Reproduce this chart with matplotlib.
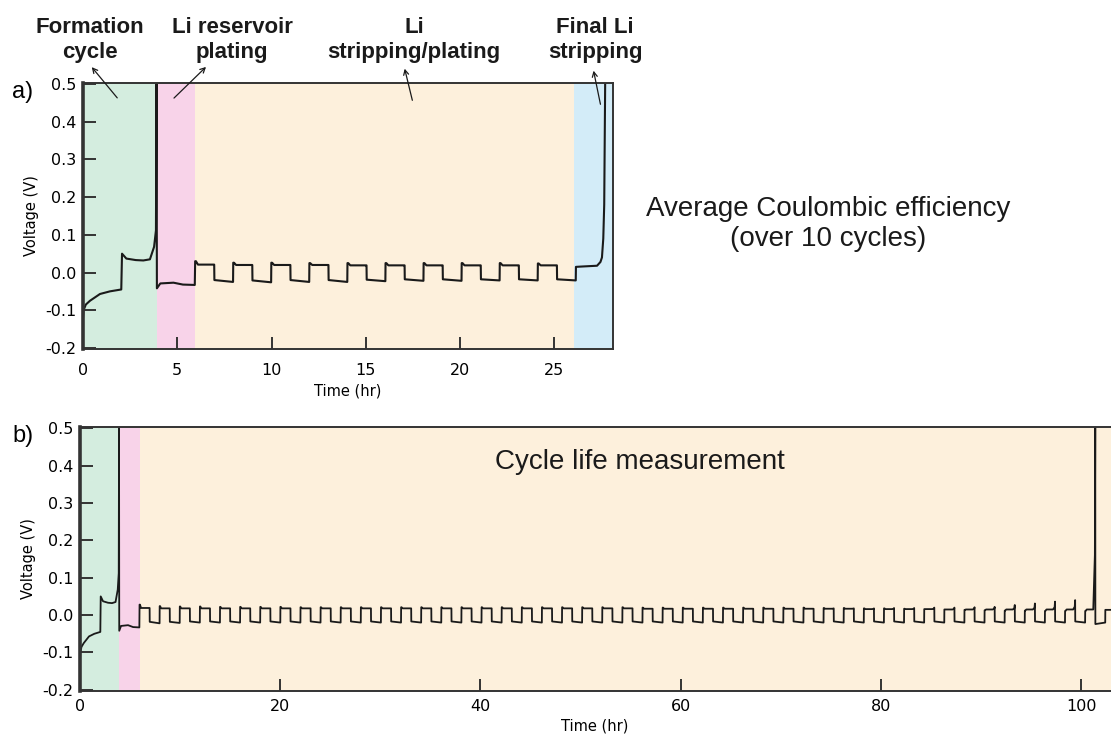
import matplotlib
matplotlib.use("Agg")
import matplotlib.pyplot as plt
from matplotlib.patches import FancyArrowPatch
from matplotlib.ticker import FormatStrFormatter

plt.rcParams['axes.unicode_minus'] = False
plt.rcParams['font.family'] = ['DejaVu Sans']

# formation cycle (shared by both cells), time in hr, voltage in V
form_t = [0.0, 0.03, 0.15, 0.37, 0.9, 1.43, 2.03, 2.07, 2.3, 2.8, 3.2, 3.55, 3.77, 3.87, 3.9]
form_v = [-0.12, -0.10, -0.085, -0.075, -0.057, -0.05, -0.045, 0.05, 0.037, 0.033, 0.032, 0.035, 0.068, 0.112, 0.5]

# Li reservoir plating
res_t = [3.92, 4.1, 4.8, 5.3, 5.93]
res_v = [-0.042, -0.029, -0.027, -0.032, -0.033]

# panel a: 10 stripping/plating cycles
a_cycle_start = 5.95
a_period = 2.02
a_over = [0.030, 0.026, 0.026, 0.025, 0.025, 0.025, 0.025, 0.025, 0.025, 0.024]
a_strip = [0.021, 0.020, 0.020, 0.020, 0.019, 0.019, 0.019, 0.019, 0.019, 0.019]
a_tip = [0.021, 0.020, 0.020, 0.020, 0.019, 0.019, 0.019, 0.019, 0.019, 0.019]
a_plate0 = [-0.020, -0.021, -0.020, -0.020, -0.019, -0.018, -0.018, -0.018, -0.018, -0.018]
a_plate1 = [-0.025, -0.026, -0.025, -0.025, -0.023, -0.022, -0.022, -0.021, -0.021, -0.021]

# panel a: final Li stripping
fin_t = [26.15, 26.5, 27.27, 27.45, 27.53, 27.6, 27.65, 27.7]
fin_v = [0.015, 0.016, 0.018, 0.028, 0.04, 0.09, 0.18, 0.5]

# panel b: cycle life, 49 cycles
b_cycle_start = 5.95
b_period = 2.01
b_over = [0.028, 0.024, 0.023, 0.023, 0.022, 0.022, 0.022, 0.022, 0.021, 0.021,
          0.021, 0.021, 0.021, 0.021, 0.021, 0.021, 0.021, 0.021, 0.021, 0.021,
          0.021, 0.021, 0.021, 0.021, 0.021, 0.020, 0.020, 0.020, 0.020, 0.020,
          0.020, 0.020, 0.020, 0.020, 0.019, 0.019, 0.018, 0.018, 0.017, 0.016,
          0.015, 0.014, 0.013, 0.012, 0.012, 0.011, 0.011, 0.011, 0.014]
b_strip = [0.019, 0.018, 0.018, 0.018, 0.018, 0.018, 0.018, 0.018, 0.018, 0.018,
           0.018, 0.018, 0.018, 0.018, 0.018, 0.018, 0.018, 0.018, 0.018, 0.018,
           0.018, 0.018, 0.018, 0.018, 0.018, 0.017, 0.017, 0.017, 0.017, 0.017,
           0.017, 0.017, 0.017, 0.017, 0.017, 0.017, 0.016, 0.016, 0.016, 0.016,
           0.015, 0.015, 0.015, 0.015, 0.015, 0.015, 0.015, 0.015, 0.014]
b_tip = [0.019, 0.018, 0.018, 0.018, 0.018, 0.018, 0.018, 0.018, 0.018, 0.018,
         0.018, 0.018, 0.018, 0.018, 0.018, 0.018, 0.018, 0.018, 0.018, 0.018,
         0.018, 0.018, 0.018, 0.018, 0.018, 0.017, 0.017, 0.017, 0.017, 0.017,
         0.017, 0.017, 0.017, 0.017, 0.018, 0.018, 0.018, 0.019, 0.019, 0.020,
         0.020, 0.021, 0.022, 0.027, 0.031, 0.036, 0.040, 0.5, 0.016]
b_plate0 = [-0.018, -0.018, -0.017, -0.017, -0.017, -0.017, -0.017, -0.017, -0.017, -0.017,
            -0.017, -0.017, -0.017, -0.017, -0.017, -0.017, -0.017, -0.017, -0.017, -0.017,
            -0.017, -0.017, -0.017, -0.017, -0.017, -0.017, -0.017, -0.017, -0.017, -0.017,
            -0.017, -0.017, -0.017, -0.017, -0.017, -0.017, -0.017, -0.017, -0.017, -0.017,
            -0.017, -0.017, -0.017, -0.017, -0.017, -0.017, -0.017, -0.024, -0.017]
b_plate1 = [-0.022, -0.021, -0.020, -0.020, -0.020, -0.020, -0.020, -0.020, -0.020, -0.020,
            -0.020, -0.020, -0.020, -0.020, -0.020, -0.020, -0.020, -0.020, -0.020, -0.020,
            -0.020, -0.020, -0.020, -0.020, -0.020, -0.020, -0.020, -0.020, -0.020, -0.020,
            -0.020, -0.020, -0.020, -0.020, -0.020, -0.020, -0.020, -0.020, -0.020, -0.020,
            -0.020, -0.020, -0.020, -0.020, -0.020, -0.020, -0.020, -0.020, -0.020]

# shaded regions (start, end) in hr
a_regions = [(0, 3.93, '#d4eddf'), (3.93, 5.95, '#f8d3e9'), (5.95, 26.05, '#fdf0dc'), (26.05, 30, '#d3ecf8')]
b_regions = [(0, 3.9, '#d4eddf'), (3.9, 6.0, '#f8d3e9'), (6.0, 110, '#fdf0dc')]

W, H = 1111, 743


def cycle_trace(t0, period, over, strip, tip, plate0, plate1):
    # one step shape per cycle: strip for half a period, plate for the rest
    t, v = [], []
    half = period / 2
    for k in range(len(strip)):
        s = t0 + k * period
        t += [s, s + 0.04, s + 0.15, s + 0.8 * half, s + 0.96 * half, s + half,
              s + half + 0.01, s + period - 0.01]
        v += [over[k], over[k], strip[k], strip[k], strip[k] + 0.3 * (tip[k] - strip[k]), tip[k],
              plate0[k], plate1[k]]
    return t, v


def style_axes(ax, xpad):
    for side in ['top', 'right', 'bottom']:
        ax.spines[side].set_linewidth(1.4)
        ax.spines[side].set_color('#333333')
    ax.spines['left'].set_linewidth(2.6)
    ax.spines['left'].set_color('#333333')
    ax.tick_params(direction='in', length=9, width=1.4, color='#333333',
                   labelsize=11.5, top=False, right=False, pad=5)
    ax.tick_params(axis='x', pad=xpad)
    ax.set_ylim(-0.203, 0.503)
    ax.set_yticks([-0.2, -0.1, 0.0, 0.1, 0.2, 0.3, 0.4, 0.5])
    ax.yaxis.set_major_formatter(FormatStrFormatter('%.1f'))
    ax.set_ylabel('Voltage (V)', fontsize=10.5, labelpad=4)
    ax.set_xlabel('Time (hr)', fontsize=10.5, labelpad=3)


fig = plt.figure(figsize=(W / 100, H / 100), dpi=100)

# panel a
ax1 = fig.add_axes([83 / W, 1 - 349 / H, (612.7 - 83) / W, (349 - 83) / H])
for x0, x1, c in a_regions:
    ax1.axvspan(x0, x1, color=c, lw=0)
ta, va = cycle_trace(a_cycle_start, a_period, a_over, a_strip, a_tip, a_plate0, a_plate1)
ax1.plot(form_t + res_t + ta + fin_t, form_v + res_v + va + fin_v, color='#1a1a1a', lw=1.5)
ax1.set_xlim(0, 28.1)
ax1.set_xticks([0, 5, 10, 15, 20, 25])
style_axes(ax1, 10)
ax1.xaxis.set_label_coords(0.5, -0.13)

# panel b
ax2 = fig.add_axes([80 / W, 1 - 691 / H, 104 * 10.01 / W, (691 - 427) / H])
for x0, x1, c in b_regions:
    ax2.axvspan(x0, x1, color=c, lw=0)
tb, vb = cycle_trace(b_cycle_start, b_period, b_over, b_strip, b_tip, b_plate0, b_plate1)
ax2.plot(form_t + res_t + tb, form_v + res_v + vb, color='#1a1a1a', lw=1.3)
ax2.set_xlim(0, 104)
ax2.set_xticks([0, 20, 40, 60, 80, 100])
style_axes(ax2, 6)
ax2.xaxis.set_label_coords((595 - 80) / (104 * 10.01), -0.105)


def fpos(x, y):
    return x / W, 1 - y / H


sans = ['Liberation Sans', 'DejaVu Sans']

# panel letters
fig.text(*fpos(12, 92), 'a)', fontsize=17, family=sans, va='center', ha='left')
fig.text(*fpos(12, 436), 'b)', fontsize=17, family=sans, va='center', ha='left')

# step headers with arrows
headers = [('Formation\ncycle', 90, (90, 65), (119, 100)),
           ('Li reservoir\nplating', 232, (208, 65), (172, 100)),
           ('Li\nstripping/plating', 414, (404, 66), (413, 103)),
           ('Final Li\nstripping', 595, (593, 68), (601, 107))]
for txt, x, head, tail in headers:
    fig.text(*fpos(x, 40), txt, fontsize=16, fontweight='bold', family=sans,
             ha='center', va='center', linespacing=1.2, color='#1a1a1a')
    fig.add_artist(FancyArrowPatch(
        fpos(*tail), fpos(*head), transform=fig.transFigure,
        arrowstyle='->,head_length=3.5,head_width=1.8', lw=0.9, color='#1a1a1a'))

fig.text(*fpos(828, 224), 'Average Coulombic efficiency\n(over 10 cycles)', fontsize=20,
         family=sans, ha='center', va='center', linespacing=1.2, color='#1a1a1a')
fig.text(*fpos(640, 462), 'Cycle life measurement', fontsize=20,
         family=sans, ha='center', va='center', color='#1a1a1a')

fig.savefig('out.png', dpi=100)
